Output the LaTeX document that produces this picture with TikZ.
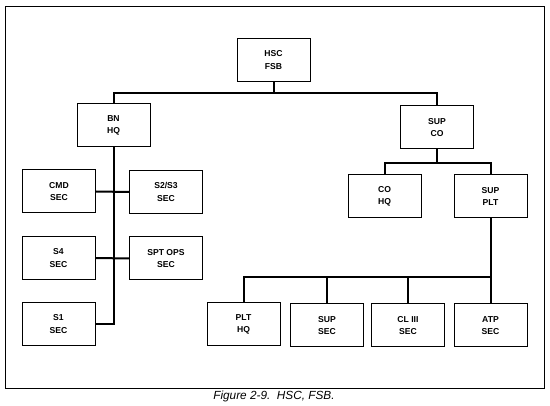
\documentclass[tikz,border=0pt]{standalone}
\usepackage{fontspec}
\setsansfont{Liberation Sans}
\usepackage{tikz}
\usetikzlibrary{positioning}
\newcommand{\unitfont}{\sffamily\bfseries\fontsize{8.6}{12.5}\selectfont}
\newcommand{\captfont}{\sffamily\itshape\fontsize{11.8}{13}\selectfont}
\tikzset{
    unit/.style={draw=black, line width=1pt, minimum width=73pt, minimum height=43pt,
        inner sep=0pt, align=center, font=\unitfont},
    link/.style={draw=black, line width=2pt},
    frame/.style={draw=black, line width=0.8pt}
}
\begin{document}
\begin{tikzpicture}[x=1pt,y=-1pt]
	\useasboundingbox (0,0) rectangle (550,406);
	\draw[frame] (5,6) rectangle (544,388);
	\node[unit] (hsc) at (273.5,60) {HSC\\FSB};
	\node[unit] (bn) at (113.5,125.5) {BN\\HQ};
	\node[unit] (supco) at (437,127.5) {SUP\\CO};
	\node[unit] (cmd) at (59,191.5) {CMD\\SEC};
	\node[unit] (stwo) at (166,192) {S2/S3\\SEC};
	\node[unit] (sfour) at (58.5,258) {S4\\SEC};
	\node[unit] (sptops) at (166,258.5) {SPT OPS\\SEC};
	\node[unit] (sone) at (58.5,324) {S1\\SEC};
	\node[unit] (cohq) at (384.5,196.5) {CO\\HQ};
	\node[unit] (supplt) at (490.5,196.5) {SUP\\PLT};
	\node[unit] (plthq) at (243.5,324.5) {PLT\\HQ};
	\node[unit] (supsec) at (327,325.5) {SUP\\SEC};
	\node[unit] (clthree) at (408,325.5) {CL III\\SEC};
	\node[unit] (atp) at (490.5,325.5) {ATP\\SEC};
	% buses
	\coordinate (topbus) at (hsc.south |- 0,93);
	\coordinate (cobus) at (supco.south |- 0,163);
	\coordinate (pltbus) at (supplt.south |- 0,277);
	\draw[link] (hsc.south) -- (topbus) -| (bn.north);
	\draw[link] (topbus) -| (supco.north);
	% battalion staff
	\draw[link] (bn.south) |- (sone.east);
	\draw[link] (cmd.east) -- (stwo.west);
	\draw[link] (sfour.east) -- (sptops.west);
	% supply company
	\draw[link] (supco.south) -- (cobus) -| (cohq.north);
	\draw[link] (cobus) -| (supplt.north);
	\draw[link] (supplt.south) -- (pltbus) -| (plthq.north);
	\draw[link] (pltbus) -| (supsec.north);
	\draw[link] (pltbus) -| (clthree.north);
	\draw[link] (pltbus) -- (atp.north);
	\node[font=\captfont] (capt) at (274,396) {Figure 2-9.\ \ HSC, FSB.};
\end{tikzpicture}
\end{document}
